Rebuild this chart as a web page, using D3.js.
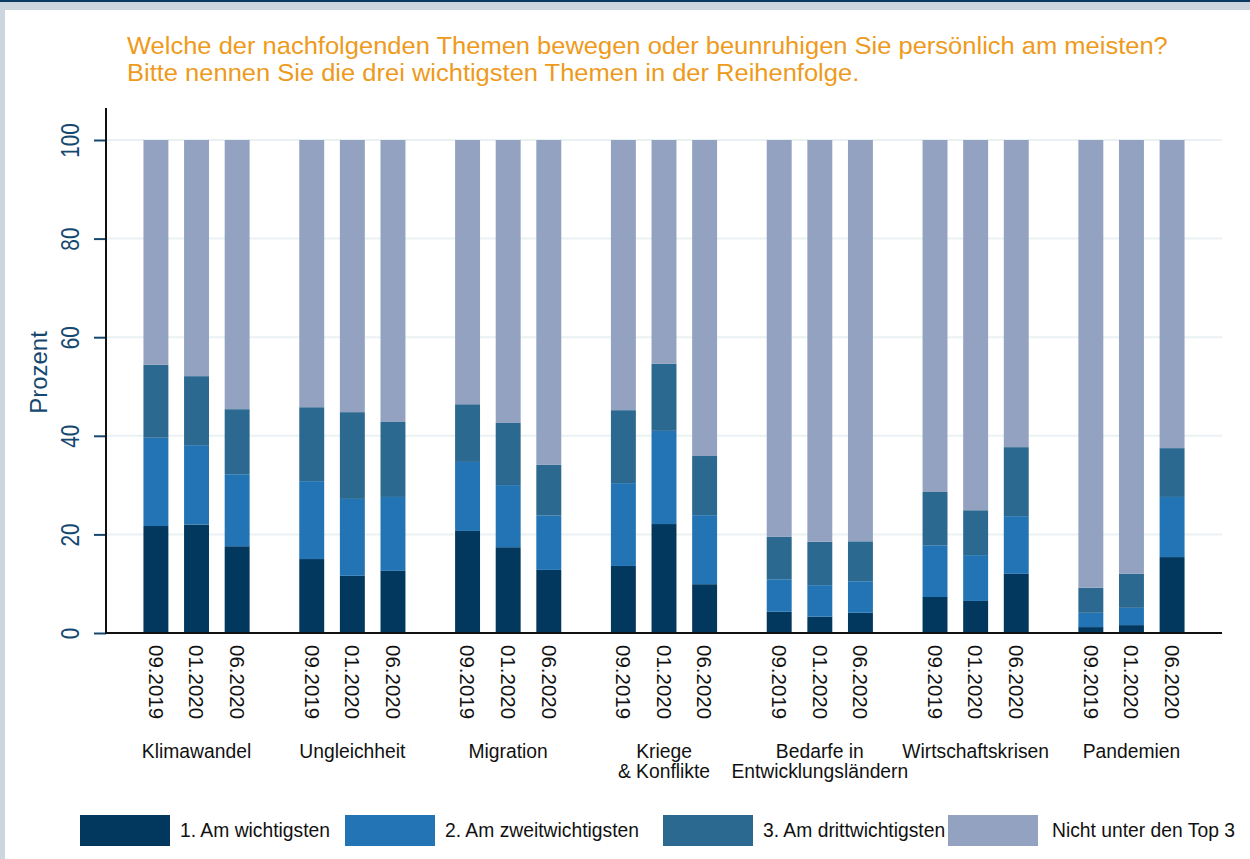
<!DOCTYPE html>
<html>
<head>
<meta charset="utf-8">
<script src="https://cdn.jsdelivr.net/npm/d3@7"></script>
<style>
  html, body { margin: 0; padding: 0; background: #fff; }
  svg { display: block; font-family: "Liberation Sans", Arial, sans-serif; }
</style>
</head>
<body>
<div id="chart"></div>
<script>
// Themen und Befragungswellen
const themes = ["Klimawandel", "Ungleichheit", "Migration", "Kriege\n& Konflikte", "Bedarfe in\nEntwicklungsländern", "Wirtschaftskrisen", "Pandemien"];
const waves = ["09.2019", "01.2020", "06.2020"];

// Anteile in Prozent, je Thema: [09.2019, 01.2020, 06.2020]
const first = [
  [21.7, 22.0, 17.6],
  [15.0, 11.6, 12.6],
  [20.7, 17.4, 12.8],
  [13.6, 22.1, 9.9],
  [4.3, 3.3, 4.1],
  [7.3, 6.5, 12.0],
  [1.2, 1.6, 15.4],
];
const second = [
  [17.9, 16.1, 14.6],
  [15.8, 15.6, 15.0],
  [14.0, 12.6, 11.0],
  [16.8, 18.9, 14.0],
  [6.6, 6.4, 6.4],
  [10.5, 9.3, 11.7],
  [2.9, 3.5, 12.2],
];
const third = [
  [14.8, 14.0, 13.2],
  [15.0, 17.6, 15.2],
  [11.7, 12.6, 10.3],
  [14.8, 13.6, 12.0],
  [8.6, 8.8, 8.1],
  [10.8, 9.1, 14.0],
  [5.1, 6.9, 9.9],
];

const seriesKeys = ["first", "second", "third", "rest"];
const seriesLabels = ["1. Am wichtigsten", "2. Am zweitwichtigsten", "3. Am drittwichtigsten", "Nicht unter den Top 3"];
const seriesColors = ["#03385e", "#2274b5", "#2c6990", "#93a2c1"];
const yTicks = [0, 20, 40, 60, 80, 100];

const W = 1250, H = 859;
const plot = { left: 106, right: 1222, top: 108, bottom: 633 };

const rows = [];
themes.forEach((t, i) => {
  waves.forEach((w, j) => {
    const a = first[i][j], b = second[i][j], c = third[i][j];
    rows.push({ theme: t, wave: w, first: a, second: b, third: c, rest: 100 - a - b - c });
  });
});

const svg = d3.select("#chart").append("svg").attr("width", W).attr("height", H);

// Rahmen
svg.append("rect").attr("width", W).attr("height", H).attr("fill", "#cdd6df");
svg.append("rect").attr("x", 5).attr("y", 10).attr("width", W - 5).attr("height", H - 10).attr("fill", "#fff");
svg.append("rect").attr("width", W).attr("height", 2).attr("fill", "#0d3a60");

// Titel (zwei Zeilen, leicht gestreckt wie im Original)
const titleLines = [
  "Welche der nachfolgenden Themen bewegen oder beunruhigen Sie persönlich am meisten?",
  "Bitte nennen Sie die drei wichtigsten Themen in der Reihenfolge.",
];
svg.append("g")
  .selectAll("text")
  .data(titleLines)
  .join("text")
  .attr("transform", (d, i) => `translate(127,${54 + i * 27}) scale(1.063,1)`)
  .attr("fill", "#ee9a1c")
  .attr("font-size", 24)
  .text((d) => d);

const y = d3.scaleLinear().domain([0, 100]).range([plot.bottom, 140]);
const x0 = d3.scaleBand().domain(themes).range([plot.left, plot.right]).paddingInner(0.218).paddingOuter(0.19);
const x1 = d3.scaleBand().domain(waves).range([0, x0.bandwidth()]).paddingInner(0.386).paddingOuter(0.193);

// Gitterlinien
svg.append("g")
  .selectAll("line")
  .data(yTicks.filter((d) => d > 0))
  .join("line")
  .attr("x1", plot.left)
  .attr("x2", plot.right)
  .attr("y1", (d) => y(d))
  .attr("y2", (d) => y(d))
  .attr("stroke", "#eaf1f3")
  .attr("stroke-width", 2);

// Balken
const stacked = d3.stack().keys(seriesKeys)(rows);
svg.append("g")
  .selectAll("g")
  .data(stacked)
  .join("g")
  .attr("fill", (d, i) => seriesColors[i])
  .selectAll("rect")
  .data((d) => d)
  .join("rect")
  .attr("x", (d) => x0(d.data.theme) + x1(d.data.wave))
  .attr("width", x1.bandwidth())
  .attr("y", (d) => y(d[1]))
  .attr("height", (d) => y(d[0]) - y(d[1]));

// y-Achse
const yAxis = svg.append("g")
  .attr("transform", `translate(${plot.left},0)`)
  .call(d3.axisLeft(y).tickValues(yTicks).tickSize(12).tickPadding(0).tickFormat(d3.format("d")));
yAxis.select(".domain").remove();
yAxis.selectAll(".tick line").attr("stroke", "#16486f").attr("stroke-width", 2);
yAxis.selectAll(".tick text")
  .attr("fill", "#16486f")
  .attr("font-size", 25)
  .attr("text-anchor", "middle")
  .attr("transform", "translate(-36,0) rotate(-90) scale(0.83,1)")
  .attr("x", 0)
  .attr("dy", "0.35em");
svg.append("line")
  .attr("x1", plot.left).attr("x2", plot.left)
  .attr("y1", plot.top).attr("y2", plot.bottom + 1)
  .attr("stroke", "#111").attr("stroke-width", 2);

svg.append("text")
  .attr("transform", `translate(47,${(plot.top + plot.bottom) / 2 + 2}) rotate(-90)`)
  .attr("text-anchor", "middle")
  .attr("fill", "#16486f")
  .attr("font-size", 24)
  .text("Prozent");

// x-Achse
svg.append("line")
  .attr("x1", plot.left).attr("x2", plot.right)
  .attr("y1", plot.bottom).attr("y2", plot.bottom)
  .attr("stroke", "#111").attr("stroke-width", 2);

svg.append("g")
  .selectAll("text")
  .data(rows)
  .join("text")
  .attr("transform", (d) => `translate(${x0(d.theme) + x1(d.wave) + x1.bandwidth() / 2},645) rotate(90)`)
  .attr("dy", "0.35em")
  .attr("font-size", 20.5)
  .attr("fill", "#111")
  .text((d) => d.wave);

const groupLabels = svg.append("g")
  .selectAll("text")
  .data(themes)
  .join("text")
  .attr("text-anchor", "middle")
  .attr("font-size", 19.3)
  .attr("fill", "#111");
groupLabels.selectAll("tspan")
  .data((d) => d.split("\n").map((s) => ({ s, theme: d })))
  .join("tspan")
  .attr("x", (d) => x0(d.theme) + x0.bandwidth() / 2)
  .attr("y", (d, i) => 758 + i * 19.5)
  .text((d) => d.s);

// Legende
const legendX = [80, 345, 663, 948];
const legend = svg.append("g")
  .selectAll("g")
  .data(seriesLabels)
  .join("g")
  .attr("transform", (d, i) => `translate(${legendX[i]},815)`);
legend.append("rect").attr("width", 90).attr("height", 31).attr("fill", (d, i) => seriesColors[i]);
legend.append("text")
  .attr("x", (d, i) => (i === 3 ? 104 : 100))
  .attr("y", 22)
  .attr("font-size", 19.3)
  .attr("fill", "#111")
  .text((d) => d);
</script>
</body>
</html>
